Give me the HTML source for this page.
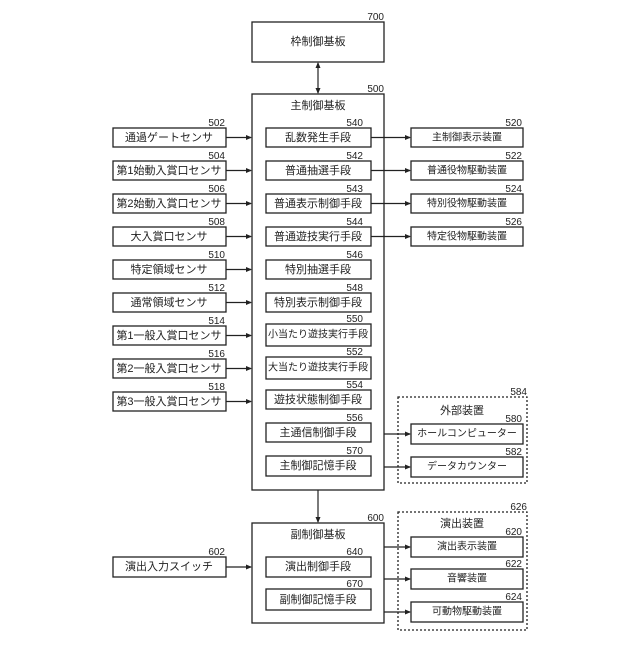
<!DOCTYPE html>
<html><head><meta charset="utf-8"><style>
html,body{margin:0;padding:0;background:#fff;}
svg text{font-family:"Liberation Sans","Noto Sans CJK JP",sans-serif;fill:#222;}
.b{font-size:11px;text-anchor:middle;dominant-baseline:central;}
.n{font-size:10px;text-anchor:end;}
</style></head><body>
<svg width="640" height="640" viewBox="0 0 640 640" xmlns="http://www.w3.org/2000/svg">
<defs><marker id="a" markerWidth="6" markerHeight="6" refX="5" refY="3" orient="auto" markerUnits="userSpaceOnUse"><path d="M0,0.5 L6,3 L0,5.5z" fill="#222"/></marker>
<marker id="s" markerWidth="6" markerHeight="6" refX="1" refY="3" orient="auto" markerUnits="userSpaceOnUse"><path d="M6,0.5 L0,3 L6,5.5z" fill="#222"/></marker></defs>
<g fill="none" stroke="#222" stroke-width="1.3">
<rect x="252" y="22" width="132" height="40"/>
<rect x="252" y="94" width="132" height="396"/>
<rect x="252" y="523" width="132" height="100"/>
<rect x="398" y="397" width="129" height="86" stroke-dasharray="2,2"/>
<rect x="398" y="512" width="129" height="118" stroke-dasharray="2,2"/>
<!-- left sensors -->
<rect x="113" y="128" width="113" height="19"/><rect x="113" y="161" width="113" height="19"/><rect x="113" y="194" width="113" height="19"/><rect x="113" y="227" width="113" height="19"/><rect x="113" y="260" width="113" height="19"/><rect x="113" y="293" width="113" height="19"/><rect x="113" y="326" width="113" height="19"/><rect x="113" y="359" width="113" height="19"/><rect x="113" y="392" width="113" height="19"/>
<rect x="113" y="557" width="113" height="20"/>
<!-- inner -->
<rect x="266" y="128" width="105" height="19"/><rect x="266" y="161" width="105" height="19"/><rect x="266" y="194" width="105" height="19"/><rect x="266" y="227" width="105" height="19"/><rect x="266" y="260" width="105" height="19"/><rect x="266" y="293" width="105" height="19"/><rect x="266" y="324" width="105" height="22"/><rect x="266" y="357" width="105" height="22"/><rect x="266" y="390" width="105" height="19"/><rect x="266" y="423" width="105" height="19"/><rect x="266" y="456" width="105" height="20"/>
<rect x="266" y="557" width="105" height="20"/><rect x="266" y="589" width="105" height="21"/>
<!-- right -->
<rect x="411" y="128" width="112" height="19"/><rect x="411" y="161" width="112" height="19"/><rect x="411" y="194" width="112" height="19"/><rect x="411" y="227" width="112" height="19"/>
<rect x="411" y="424" width="112" height="20"/><rect x="411" y="457" width="112" height="20"/>
<rect x="411" y="537" width="112" height="20"/><rect x="411" y="569" width="112" height="20"/><rect x="411" y="602" width="112" height="20"/>
</g>
<g stroke="#222" stroke-width="1.2" fill="none">
<line x1="318" y1="63" x2="318" y2="93" marker-start="url(#s)" marker-end="url(#a)"/>
<line x1="318" y1="490" x2="318" y2="522" marker-end="url(#a)"/>
<line x1="226" y1="137.5" x2="251" y2="137.5" marker-end="url(#a)"/><line x1="226" y1="170.5" x2="251" y2="170.5" marker-end="url(#a)"/><line x1="226" y1="203.5" x2="251" y2="203.5" marker-end="url(#a)"/><line x1="226" y1="236.5" x2="251" y2="236.5" marker-end="url(#a)"/><line x1="226" y1="269.5" x2="251" y2="269.5" marker-end="url(#a)"/><line x1="226" y1="302.5" x2="251" y2="302.5" marker-end="url(#a)"/><line x1="226" y1="335.5" x2="251" y2="335.5" marker-end="url(#a)"/><line x1="226" y1="368.5" x2="251" y2="368.5" marker-end="url(#a)"/><line x1="226" y1="401.5" x2="251" y2="401.5" marker-end="url(#a)"/>
<line x1="226" y1="567" x2="251" y2="567" marker-end="url(#a)"/>
<line x1="371" y1="137.5" x2="410" y2="137.5" marker-end="url(#a)"/><line x1="371" y1="170.5" x2="410" y2="170.5" marker-end="url(#a)"/><line x1="371" y1="203.5" x2="410" y2="203.5" marker-end="url(#a)"/><line x1="371" y1="236.5" x2="410" y2="236.5" marker-end="url(#a)"/>
<line x1="384" y1="434" x2="410" y2="434" marker-end="url(#a)"/><line x1="384" y1="467" x2="410" y2="467" marker-end="url(#a)"/>
<line x1="384" y1="547" x2="410" y2="547" marker-end="url(#a)"/><line x1="384" y1="579" x2="410" y2="579" marker-end="url(#a)"/><line x1="384" y1="612" x2="410" y2="612" marker-end="url(#a)"/>
</g>
<g class="b">
<text x="318" y="42">枠制御基板</text><text x="318" y="106">主制御基板</text><text x="318" y="535">副制御基板</text>
<text x="462" y="411">外部装置</text><text x="462" y="524">演出装置</text>
<text x="169" y="138">通過ゲートセンサ</text><text x="169" y="171">第1始動入賞口センサ</text><text x="169" y="204">第2始動入賞口センサ</text><text x="169" y="237">大入賞口センサ</text><text x="169" y="270">特定領域センサ</text><text x="169" y="303">通常領域センサ</text><text x="169" y="336">第1一般入賞口センサ</text><text x="169" y="369">第2一般入賞口センサ</text><text x="169" y="402">第3一般入賞口センサ</text><text x="169" y="567">演出入力スイッチ</text>
<text x="318" y="138">乱数発生手段</text><text x="318" y="171">普通抽選手段</text><text x="318" y="204">普通表示制御手段</text><text x="318" y="237">普通遊技実行手段</text><text x="318" y="270">特別抽選手段</text><text x="318" y="303">特別表示制御手段</text><text x="318" y="335" style="font-size:10px">小当たり遊技実行手段</text><text x="318" y="368" style="font-size:10px">大当たり遊技実行手段</text><text x="318" y="400">遊技状態制御手段</text><text x="318" y="433">主通信制御手段</text><text x="318" y="466">主制御記憶手段</text><text x="318" y="567">演出制御手段</text><text x="318" y="600">副制御記憶手段</text>
<text x="467" y="138" style="font-size:10px">主制御表示装置</text><text x="467" y="171" style="font-size:10px">普通役物駆動装置</text><text x="467" y="204" style="font-size:10px">特別役物駆動装置</text><text x="467" y="237" style="font-size:10px">特定役物駆動装置</text>
<text x="467" y="434" style="font-size:10px">ホールコンピューター</text><text x="467" y="467" style="font-size:10px">データカウンター</text>
<text x="467" y="547" style="font-size:10px">演出表示装置</text><text x="467" y="579" style="font-size:10px">音響装置</text><text x="467" y="612" style="font-size:10px">可動物駆動装置</text>
</g>
<g class="n">
<text x="384" y="20">700</text><text x="384" y="92">500</text><text x="384" y="521">600</text><text x="527" y="395">584</text><text x="527" y="510">626</text>
<text x="225" y="126">502</text><text x="225" y="159">504</text><text x="225" y="192">506</text><text x="225" y="225">508</text><text x="225" y="258">510</text><text x="225" y="291">512</text><text x="225" y="324">514</text><text x="225" y="357">516</text><text x="225" y="390">518</text><text x="225" y="555">602</text>
<text x="363" y="126">540</text><text x="363" y="159">542</text><text x="363" y="192">543</text><text x="363" y="225">544</text><text x="363" y="258">546</text><text x="363" y="291">548</text><text x="363" y="322">550</text><text x="363" y="355">552</text><text x="363" y="388">554</text><text x="363" y="421">556</text><text x="363" y="454">570</text><text x="363" y="555">640</text><text x="363" y="587">670</text>
<text x="522" y="126">520</text><text x="522" y="159">522</text><text x="522" y="192">524</text><text x="522" y="225">526</text><text x="522" y="422">580</text><text x="522" y="455">582</text><text x="522" y="535">620</text><text x="522" y="567">622</text><text x="522" y="600">624</text>
</g>
</svg>
</body></html>
